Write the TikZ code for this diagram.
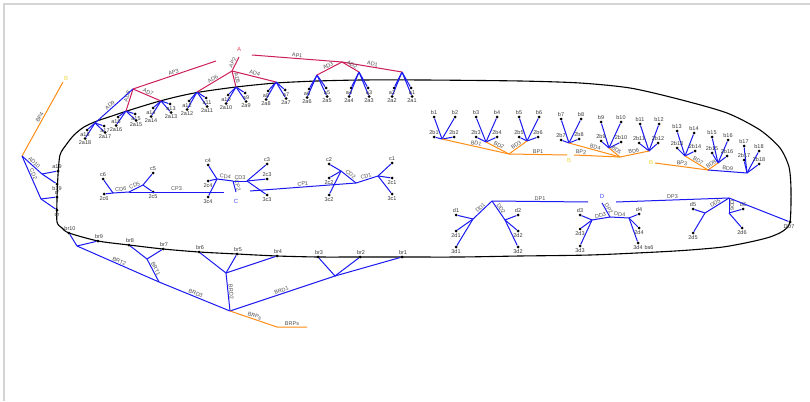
\documentclass[tikz,border=0pt]{standalone}
\usepackage{fontspec}
\setmainfont{Liberation Sans}
\definecolor{redA}{RGB}{204,30,90}
\definecolor{blueL}{RGB}{25,25,240}
\definecolor{orangeL}{RGB}{255,140,20}
\definecolor{yellowB}{RGB}{235,215,60}
\definecolor{labA}{RGB}{240,70,90}
\definecolor{labCD}{RGB}{70,70,255}
\definecolor{txt}{RGB}{55,55,55}
\definecolor{etxt}{RGB}{80,80,80}
\definecolor{frameg}{RGB}{212,212,212}
\tikzset{
 dot/.style={circle,fill=black,inner sep=0pt,minimum size=3pt},
 lbl/.style={font=\fontsize{5.5}{6}\selectfont, text=txt, inner sep=0.3pt},
 elab/.style={font=\fontsize{5.5}{6}\selectfont, text=etxt, sloped, above, inner sep=0.8pt, midway},
 bigl/.style={font=\fontsize{6}{7}\selectfont, inner sep=0.5pt},
 rl/.style={draw=redA, line width=1pt},
 bl/.style={draw=blueL, line width=1pt},
 ol/.style={draw=orangeL, line width=1pt},
 loopline/.style={draw=black, line width=1.1pt},
 framel/.style={draw=frameg, line width=2pt},
}
\begin{document}
\begin{tikzpicture}[x=1pt,y=-1pt]
\useasboundingbox (0,0) rectangle (810,401);
\draw[framel] (4,401) -- (4,4) -- (810,4);

% main loop
\draw[loopline] plot[smooth cycle, tension=0.45] coordinates {
(57,222) (57,200) (58,175) (60,155) (66,145) (74,135) (84,127) (97,121) (112,116) (127,111) (143,106) (160,101) (180,96) (200,92) (236,87) (276,83) (317,81) (362,80) (424,80) (520,81) (580,83) (630,88) (678,99) (727,113) (760,130) (780,148) (789,167) (791,190) (790,222) (783,231) (770,237) (750,242) (723,247) (690,250) (657,252) (590,255) (520,256) (460,257) (402,257) (360,257) (318,257) (277,256) (237,254) (199,252) (163,249) (129,245) (98,241) (69,233) (62,228)};

% ---------------- A clusters ----------------
\foreach \i/\hx/\hy/\dl/\dr in {1/402/72/29/29, 2/359/72/29/29, 3/317/75/27/26, 4/276/82/22/21, 5/236/87/21/19, 6/197/92/22/19, 7/161/101/20/16, 8/126/111/19/14, 9/95/123/20/14}{
 \pgfmathtruncatemacro{\kr}{2*\i-1}
 \pgfmathtruncatemacro{\kl}{2*\i}
 \pgfmathsetmacro{\ul}{max(\dl-13,3)}
 \pgfmathsetmacro{\ur}{max(\dr-13,3)}
 \coordinate (ha\i) at (\hx,\hy);
 \node[dot] (a\kl) at (\hx-8,\hy+\ul) {};
 \node[dot] (aa\kl) at (\hx-10,\hy+\dl-4.5) {};
 \node[dot] (a\kr) at (\hx+9,\hy+\ur) {};
 \node[dot] (aa\kr) at (\hx+10,\hy+\dr-4.5) {};
 \draw[bl] (ha\i) -- (a\kl);
 \draw[bl] (ha\i) -- (aa\kl);
 \draw[bl] (ha\i) -- (a\kr);
 \draw[bl] (ha\i) -- (aa\kr);
 \node[lbl] (ta\kl) at (\hx-10,\hy+\ul+4.5) {a\kl};
 \node[lbl] (taa\kl) at (\hx-10,\hy+\dl) {2a\kl};
 \node[lbl] (ta\kr) at (\hx+10,\hy+\ur+4.5) {a\kr};
 \node[lbl] (taa\kr) at (\hx+10,\hy+\dr) {2a\kr};
}
\node[bigl, text=labA] (A) at (239,49) {A};
\coordinate (ap1s) at (252,55);
\coordinate (ja1) at (342,62);
\coordinate (ap2s) at (239,57);
\coordinate (ja2) at (232,71);
\coordinate (ap3s) at (216,61);
\coordinate (ja3) at (133,89);
\draw[rl] (ap1s) -- node[elab]{AP1} (ja1);
\draw[rl] (ja1) -- node[elab]{AD1} (ha1);
\draw[rl] (ja1) -- node[elab]{AD2} (ha2);
\draw[rl] (ja1) -- node[elab]{AD3} (ha3);
\draw[rl] (ap2s) -- node[elab]{AP2} (ja2);
\draw[rl] (ja2) -- node[elab]{AD4} (ha4);
\draw[rl] (ja2) -- node[elab]{AD5} (ha5);
\draw[rl] (ja2) -- node[elab]{AD6} (ha6);
\draw[rl] (ap3s) -- node[elab]{AP3} (ja3);
\draw[rl] (ja3) -- node[elab]{AD7} (ha7);
\draw[rl] (ja3) -- node[elab, pos=.38]{AD8} (ha8);
\draw[bl] (ja3) -- node[elab, pos=.55]{AD9} (ha9);

% ---------------- B clusters ----------------
\foreach \j/\hx/\hy/\px/\py/\qx/\qy/\rx/\ry/\sx/\sy in {
1/442/139/434/117/455/117/434/137/454/137,
2/486/142/476/117/497/117/476/137/497/137,
3/527/141/519/117/539/117/519/137/538/137,
4/569/143/561/119/581/119/561/140/579/139,
5/609/148/601/122/621/122/601/141/621/142,
6/649/151/640/124/659/124/639/143/658/143,
7/685/156/677/131/694/133/677/148/695/151,
8/718/163/712/137/728/140/712/153/727/156,
9/747/173/744/146/759/151/744/160/759/164}{
 \pgfmathtruncatemacro{\kl}{2*\j-1}
 \pgfmathtruncatemacro{\kr}{2*\j}
 \coordinate (hb\j) at (\hx,\hy);
 \node[dot] (b\kl) at (\px,\py) {};
 \node[dot] (b\kr) at (\qx,\qy) {};
 \node[dot] (bb\kl) at (\rx,\ry) {};
 \node[dot] (bb\kr) at (\sx,\sy) {};
 \draw[bl] (hb\j) -- (b\kl);
 \draw[bl] (hb\j) -- (b\kr);
 \draw[bl] (hb\j) -- (bb\kl);
 \draw[bl] (hb\j) -- (bb\kr);
 \node[lbl] (tb\kl) at (\px,\py-4.5) {b\kl};
 \node[lbl] (tb\kr) at (\qx,\qy-4.5) {b\kr};
 \node[lbl] (tbb\kl) at (\rx,\ry-4.5) {2b\kl};
 \node[lbl] (tbb\kr) at (\sx,\sy-4.5) {2b\kr};
}
\coordinate (jb1) at (509,154);
\coordinate (bp1e) at (567,155);
\coordinate (bp2s) at (574,155);
\coordinate (jb2) at (620,157);
\coordinate (bp3s) at (655,163);
\coordinate (jb3) at (708,170);
\coordinate (bp4s) at (63,82);
\coordinate (p0) at (22,156);
\node[bigl, text=yellowB] (B1) at (569,160) {B};
\node[bigl, text=yellowB] (B2) at (651,162) {B};
\node[bigl, text=yellowB] (B3) at (66,78) {B};
\draw[ol] (hb1) -- node[elab]{BD1} (jb1);
\draw[ol] (hb2) -- node[elab]{BD2} (jb1);
\draw[ol] (hb3) -- node[elab]{BD3} (jb1);
\draw[ol] (jb1) -- node[elab]{BP1} (bp1e);
\draw[ol] (bp2s) -- node[elab, pos=.15]{BP2} (jb2);
\draw[ol] (hb4) -- node[elab]{BD4} (jb2);
\draw[ol] (hb5) -- node[elab]{BD5} (jb2);
\draw[ol] (jb2) -- node[elab]{BD6} (hb6);
\draw[ol] (bp3s) -- node[elab]{BP3} (jb3);
\draw[ol] (jb3) -- node[elab]{BD7} (hb7);
\draw[ol] (jb3) -- node[elab]{BD8} (hb8);
\draw[bl] (jb3) -- node[elab]{BD9} (hb9);
\draw[ol] (bp4s) -- node[elab]{BP4} (p0);

% ---------------- C clusters ----------------
\foreach \n/\hx/\hy/\ax/\ay/\bx/\by/\bo/\cx/\cy in {
1/378/176/392/163/392/178/4.5/392/194,
2/341/171/329/164/329/178/4.5/329/195,
3/247/181/267/164/267/179/-4.5/267/195,
4/217/179/208/165/208/181/4.5/208/197}{
 \coordinate (hc\n) at (\hx,\hy);
 \node[dot] (c\n) at (\ax,\ay) {};
 \node[dot] (cc\n) at (\bx,\by) {};
 \node[dot] (ccc\n) at (\cx,\cy) {};
 \draw[bl] (hc\n) -- (c\n);
 \draw[bl] (hc\n) -- (cc\n);
 \draw[bl] (hc\n) -- (ccc\n);
 \node[lbl] (tc\n) at (\ax,\ay-4.5) {c\n};
 \node[lbl] (tcc\n) at (\bx,\by+\bo) {2c\n};
 \node[lbl] (tccc\n) at (\cx,\cy+4.5) {3c\n};
}
\foreach \n/\hx/\hy/\ax/\ay/\bx/\by in {5/143/185/153/173/153/192, 6/113/193/103/179/104/194}{
 \coordinate (hc\n) at (\hx,\hy);
 \node[dot] (c\n) at (\ax,\ay) {};
 \node[dot] (cc\n) at (\bx,\by) {};
 \draw[bl] (hc\n) -- (c\n);
 \draw[bl] (hc\n) -- (cc\n);
 \node[lbl] (tc\n) at (\ax,\ay-4.5) {c\n};
 \node[lbl] (tcc\n) at (\bx,\by+4.5) {2c\n};
}
\node[bigl, text=labCD] (C) at (236,201) {C};
\coordinate (cp1s) at (250,191);
\coordinate (jc1) at (356,183);
\coordinate (cp2s) at (236,192);
\coordinate (jc2) at (233,181);
\coordinate (cp3s) at (224,192);
\coordinate (jc3) at (129,192);
\draw[bl] (cp1s) -- node[elab]{CP1} (jc1);
\draw[bl] (jc1) -- node[elab]{CD1} (hc1);
\draw[bl] (jc1) -- node[elab]{CD2} (hc2);
\draw[bl] (cp2s) -- node[elab]{CP2} (jc2);
\draw[bl] (jc2) -- node[elab]{CD3} (hc3);
\draw[bl] (jc2) -- node[elab]{CD4} (hc4);
\draw[bl] (cp3s) -- node[elab]{CP3} (jc3);
\draw[bl] (jc3) -- node[elab]{CD5} (hc5);
\draw[bl] (jc3) -- node[elab]{CD6} (hc6);

% ---------------- D clusters ----------------
\foreach \n/\hx/\hy/\ax/\ay/\bx/\by/\cx/\cy in {
1/473/219/456/215/456/231/456/247,
2/505/220/518/215/518/231/518/247,
3/592/220/580/215/580/229/580/246,
4/629/218/639/214/639/228/638/243}{
 \coordinate (hd\n) at (\hx,\hy);
 \node[dot] (d\n) at (\ax,\ay) {};
 \node[dot] (dd\n) at (\bx,\by) {};
 \node[dot] (ddd\n) at (\cx,\cy) {};
 \draw[bl] (hd\n) -- (d\n);
 \draw[bl] (hd\n) -- (dd\n);
 \draw[bl] (hd\n) -- (ddd\n);
 \node[lbl] (td\n) at (\ax,\ay-4.5) {d\n};
 \node[lbl] (tdd\n) at (\bx,\by+4.5) {2d\n};
 \node[lbl] (tddd\n) at (\cx,\cy+4.5) {3d\n};
}
\foreach \n/\hx/\hy/\ax/\ay/\bx/\by in {5/705/213/693/209/693/233, 6/729/213/743/209/742/228}{
 \coordinate (hd\n) at (\hx,\hy);
 \node[dot] (d\n) at (\ax,\ay) {};
 \node[dot] (dd\n) at (\bx,\by) {};
 \draw[bl] (hd\n) -- (d\n);
 \draw[bl] (hd\n) -- (dd\n);
 \node[lbl] (td\n) at (\ax,\ay-4.5) {d\n};
 \node[lbl] (tdd\n) at (\bx,\by+4.5) {2d\n};
}
\node[lbl] (tbs6) at (649,247.5) {bs6};
\node[bigl, text=labCD] (D) at (602,196) {D};
\coordinate (dp1e) at (588,202);
\coordinate (jd1) at (492,201);
\coordinate (dp2s) at (602,203);
\coordinate (jd2) at (610,217);
\coordinate (dp3s) at (616,202);
\coordinate (jd3) at (729,198);
\node[dot] (ddseven) at (790,222) {};
\node[lbl] (tddseven) at (789,227) {DD7};
\draw[bl] (dp1e) -- node[elab]{DP1} (jd1);
\draw[bl] (jd1) -- node[elab]{DD1} (hd1);
\draw[bl] (jd1) -- node[elab]{DD2} (hd2);
\draw[bl] (dp2s) -- node[elab]{DP2} (jd2);
\draw[bl] (jd2) -- node[elab]{DD3} (hd3);
\draw[bl] (jd2) -- node[elab]{DD4} (hd4);
\draw[bl] (dp3s) -- node[elab]{DP3} (jd3);
\draw[bl] (jd3) -- node[elab]{DD5} (hd5);
\draw[bl] (jd3) -- node[elab]{DD6} (hd6);
\draw[bl] (jd3) -- (ddseven);

% ---------------- left side ----------------
\node[dot] (a19) at (58,171) {};
\node[dot] (b19) at (57,184) {};
\node[dot] (dq) at (57,197) {};
\node[dot] (dr) at (57,210) {};
\node[lbl] (ta19) at (57,166.5) {a19};
\node[lbl] (tb19) at (57,188.5) {b19};
\node[lbl] (tdq) at (57,192.5) {d'};
\node[lbl] (tdr) at (57,214.5) {dr};
\coordinate (jl1) at (42,174);
\coordinate (jl2) at (41,199);
\draw[bl] (p0) -- node[elab]{AD10} (jl1);
\draw[bl] (jl1) -- (a19);
\draw[bl] (jl1) -- (b19);
\draw[bl] (p0) -- node[elab, pos=.45]{CD2} (jl2);
\draw[bl] (jl2) -- (dq);
\draw[bl] (jl2) -- (dr);

% ---------------- BR ----------------
\foreach \n/\x/\y in {1/402/257, 2/360/257, 3/318/257, 4/277/256, 5/237/254, 6/199/252, 7/163/249, 8/129/245, 9/98/241, 10/69/233}{
 \node[dot] (br\n) at (\x,\y) {};
 \node[lbl] (tbr\n) at (\x+1,\y-4.5) {br\n};
}
\coordinate (jr4) at (77,246);
\coordinate (jr3) at (147,259);
\coordinate (jr0) at (159,282);
\coordinate (jrm) at (230,311);
\coordinate (jr2) at (226,273);
\coordinate (jr1) at (335,276);
\coordinate (bps1) at (277,327);
\coordinate (bps2) at (307,327);
\draw[bl] (br10) -- (jr4);
\draw[bl] (br9) -- (jr4);
\draw[bl] (jr4) -- node[elab]{BRT2} (jr0);
\draw[bl] (br8) -- (jr3);
\draw[bl] (br7) -- (jr3);
\draw[bl] (jr3) -- node[elab]{BRT1} (jr0);
\draw[bl] (jr0) -- node[elab]{BRD3} (jrm);
\draw[bl] (br6) -- (jr2);
\draw[bl] (br5) -- (jr2);
\draw[bl] (br4) -- (jr2);
\draw[bl] (jr2) -- node[elab]{BRD2} (jrm);
\draw[bl] (br3) -- (jr1);
\draw[bl] (br2) -- (jr1);
\draw[bl] (jrm) -- node[elab]{BRD1} (jr1) -- (br1);
\draw[ol] (jrm) -- node[elab]{BRPs} (bps1) -- node[elab]{BRPs} (bps2);
\end{tikzpicture}
\end{document}
